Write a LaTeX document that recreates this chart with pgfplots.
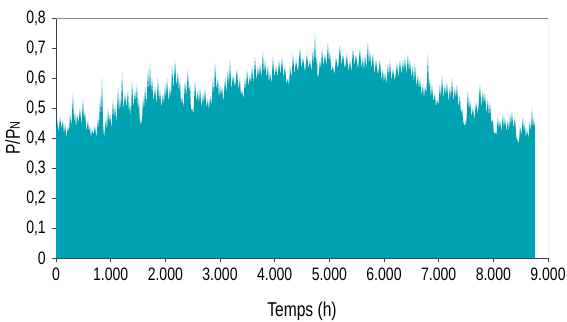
\documentclass[border=0pt]{standalone}
\usepackage{fontspec}
\setmainfont{Liberation Sans}[FakeStretch=0.78]
\usepackage{pgfplots}
\pgfplotsset{compat=1.18}
\definecolor{teal}{RGB}{0,162,178}
\definecolor{frame}{RGB}{140,140,140}
\begin{document}
\fontsize{18}{21}\selectfont
\begin{tikzpicture}[x=1pt,y=1pt]
\useasboundingbox (0,0) rectangle (567,321);
\begin{axis}[
  at={(56pt,63pt)}, anchor=south west,
  scale only axis, width=492pt, height=240pt,
  xmin=0, xmax=9000, ymin=0, ymax=0.8,
  axis x line=bottom, axis y line=left,
  axis line style={-, draw=black!75, line width=0.8pt},
  xtick={0,1000,...,9000}, ytick={0,0.1,...,0.8},
  tick align=outside, major tick length=4pt,
  tick style={draw=black!75, line width=0.7pt},
  /pgf/number format/assume math mode=true,
  /pgf/number format/.cd, use comma, 1000 sep={.}, fixed, precision=1,
  /pgfplots/.cd,
  ticklabel style={font=\fontsize{18}{21}\selectfont},
  label style={font=\fontsize{20}{23}\selectfont},
  xlabel={Temps (h)}, ylabel={P/P{\fontsize{14}{14}\selectfont N}},
  xlabel style={yshift=-9pt},
  ylabel style={yshift=-6pt},
  clip=true,
]
\addplot[fill=teal, draw=none] coordinates {
(0,0.44)(9,0.41)(18,0.46)(45,0.42)(73,0.47)(100,0.43)(128,0.46)(146,0.41)(165,0.45)(192,0.40)
(219,0.44)(238,0.42)(256,0.48)(283,0.44)(311,0.55)(330,0.45)(348,0.49)(366,0.43)(384,0.48)(411,0.45)
(439,0.50)(466,0.44)(494,0.53)(512,0.46)(530,0.49)(557,0.42)(585,0.46)(603,0.42)(622,0.44)(640,0.40)
(658,0.43)(685,0.41)(713,0.44)(740,0.40)(768,0.47)(786,0.43)(805,0.54)(823,0.47)(841,0.60)(860,0.45)
(878,0.40)(896,0.43)(915,0.47)(933,0.42)(951,0.50)(970,0.45)(988,0.48)(1015,0.43)(1043,0.53)(1061,0.46)
(1079,0.51)(1106,0.45)(1134,0.57)(1152,0.48)(1171,0.54)(1189,0.49)(1207,0.62)(1234,0.49)(1262,0.55)(1290,0.50)
(1317,0.56)(1335,0.48)(1353,0.52)(1371,0.47)(1390,0.59)(1418,0.50)(1445,0.56)(1463,0.52)(1481,0.58)(1500,0.49)
(1518,0.53)(1536,0.44)(1555,0.46)(1573,0.45)(1591,0.54)(1610,0.49)(1628,0.57)(1655,0.51)(1683,0.63)(1701,0.55)
(1719,0.65)(1738,0.55)(1756,0.60)(1783,0.52)(1811,0.57)(1838,0.51)(1866,0.60)(1884,0.52)(1902,0.56)(1930,0.50)
(1957,0.55)(1975,0.51)(1994,0.58)(2012,0.53)(2030,0.60)(2058,0.52)(2085,0.57)(2104,0.53)(2122,0.64)(2150,0.56)
(2177,0.66)(2204,0.57)(2231,0.62)(2250,0.55)(2268,0.60)(2286,0.51)(2305,0.54)(2332,0.50)(2359,0.59)(2386,0.54)
(2414,0.63)(2432,0.55)(2451,0.58)(2469,0.49)(2487,0.50)(2514,0.48)(2542,0.59)(2570,0.52)(2597,0.56)(2615,0.51)
(2634,0.57)(2662,0.50)(2689,0.55)(2707,0.51)(2725,0.57)(2752,0.50)(2780,0.53)(2798,0.49)(2817,0.54)(2844,0.51)
(2872,0.60)(2890,0.54)(2908,0.65)(2936,0.56)(2963,0.60)(2982,0.53)(3000,0.58)(3018,0.54)(3036,0.57)(3064,0.52)
(3091,0.60)(3118,0.55)(3146,0.63)(3164,0.57)(3182,0.66)(3210,0.56)(3237,0.61)(3274,0.57)(3310,0.63)(3338,0.56)
(3365,0.60)(3384,0.54)(3402,0.56)(3430,0.53)(3457,0.60)(3475,0.56)(3493,0.63)(3520,0.57)(3548,0.61)(3566,0.58)
(3585,0.64)(3612,0.58)(3640,0.67)(3668,0.59)(3695,0.64)(3713,0.60)(3731,0.65)(3758,0.60)(3786,0.69)(3804,0.61)
(3823,0.66)(3850,0.60)(3877,0.64)(3896,0.58)(3914,0.62)(3942,0.58)(3969,0.67)(3996,0.60)(4024,0.64)(4052,0.60)
(4079,0.66)(4106,0.61)(4134,0.67)(4161,0.60)(4188,0.64)(4216,0.58)(4243,0.60)(4262,0.57)(4280,0.64)(4308,0.60)
(4335,0.68)(4362,0.61)(4390,0.66)(4426,0.62)(4463,0.70)(4490,0.63)(4518,0.67)(4554,0.62)(4591,0.68)(4618,0.63)
(4646,0.66)(4674,0.62)(4701,0.70)(4719,0.64)(4737,0.75)(4756,0.64)(4774,0.68)(4783,0.61)(4792,0.60)(4810,0.62)
(4829,0.66)(4847,0.63)(4865,0.70)(4892,0.64)(4920,0.68)(4948,0.64)(4975,0.72)(4993,0.65)(5011,0.69)(5038,0.62)
(5066,0.64)(5094,0.61)(5121,0.67)(5158,0.63)(5194,0.71)(5222,0.64)(5249,0.68)(5286,0.63)(5322,0.68)(5350,0.62)
(5377,0.66)(5404,0.62)(5432,0.70)(5460,0.64)(5487,0.68)(5524,0.63)(5560,0.70)(5588,0.63)(5615,0.67)(5634,0.62)
(5652,0.68)(5679,0.63)(5706,0.72)(5724,0.64)(5743,0.69)(5770,0.63)(5798,0.68)(5826,0.61)(5853,0.66)(5890,0.61)
(5926,0.66)(5954,0.59)(5981,0.63)(5999,0.58)(6017,0.62)(6044,0.58)(6072,0.65)(6090,0.60)(6109,0.66)(6136,0.59)
(6164,0.63)(6200,0.59)(6237,0.65)(6264,0.60)(6292,0.66)(6320,0.61)(6347,0.66)(6365,0.62)(6383,0.67)(6410,0.61)
(6438,0.68)(6456,0.62)(6475,0.66)(6502,0.60)(6530,0.64)(6548,0.58)(6566,0.65)(6594,0.57)(6621,0.61)(6640,0.56)
(6658,0.60)(6686,0.54)(6713,0.58)(6731,0.53)(6749,0.57)(6776,0.55)(6804,0.68)(6822,0.56)(6840,0.60)(6858,0.53)
(6877,0.58)(6904,0.52)(6932,0.55)(6950,0.50)(6968,0.53)(6996,0.51)(7023,0.58)(7042,0.53)(7060,0.61)(7088,0.53)
(7115,0.58)(7133,0.54)(7151,0.59)(7178,0.52)(7206,0.57)(7224,0.53)(7243,0.60)(7270,0.52)(7298,0.57)(7316,0.53)
(7334,0.58)(7362,0.50)(7389,0.54)(7408,0.48)(7426,0.50)(7454,0.45)(7481,0.44)(7508,0.46)(7535,0.56)(7554,0.49)
(7572,0.53)(7600,0.47)(7627,0.50)(7654,0.46)(7682,0.52)(7718,0.48)(7755,0.58)(7782,0.50)(7810,0.56)(7828,0.51)
(7846,0.55)(7874,0.48)(7901,0.53)(7920,0.47)(7938,0.52)(7966,0.45)(7993,0.46)(8011,0.41)(8029,0.42)(8056,0.41)
(8084,0.47)(8102,0.43)(8121,0.46)(8148,0.42)(8176,0.48)(8194,0.43)(8212,0.47)(8240,0.42)(8267,0.46)(8286,0.42)
(8304,0.48)(8322,0.44)(8340,0.49)(8368,0.43)(8395,0.47)(8422,0.40)(8450,0.39)(8468,0.38)(8487,0.44)(8514,0.41)
(8541,0.47)(8560,0.42)(8578,0.45)(8596,0.40)(8615,0.43)(8642,0.40)(8669,0.46)(8688,0.42)(8706,0.50)(8724,0.43)
(8742,0.47)(8751,0.43)(8760,0.45)
} \closedcycle;
\draw[frame, line width=0.8pt] (rel axis cs:0,1) -- (rel axis cs:1,1) -- (rel axis cs:1,0);
\end{axis}
\end{tikzpicture}
\end{document}
